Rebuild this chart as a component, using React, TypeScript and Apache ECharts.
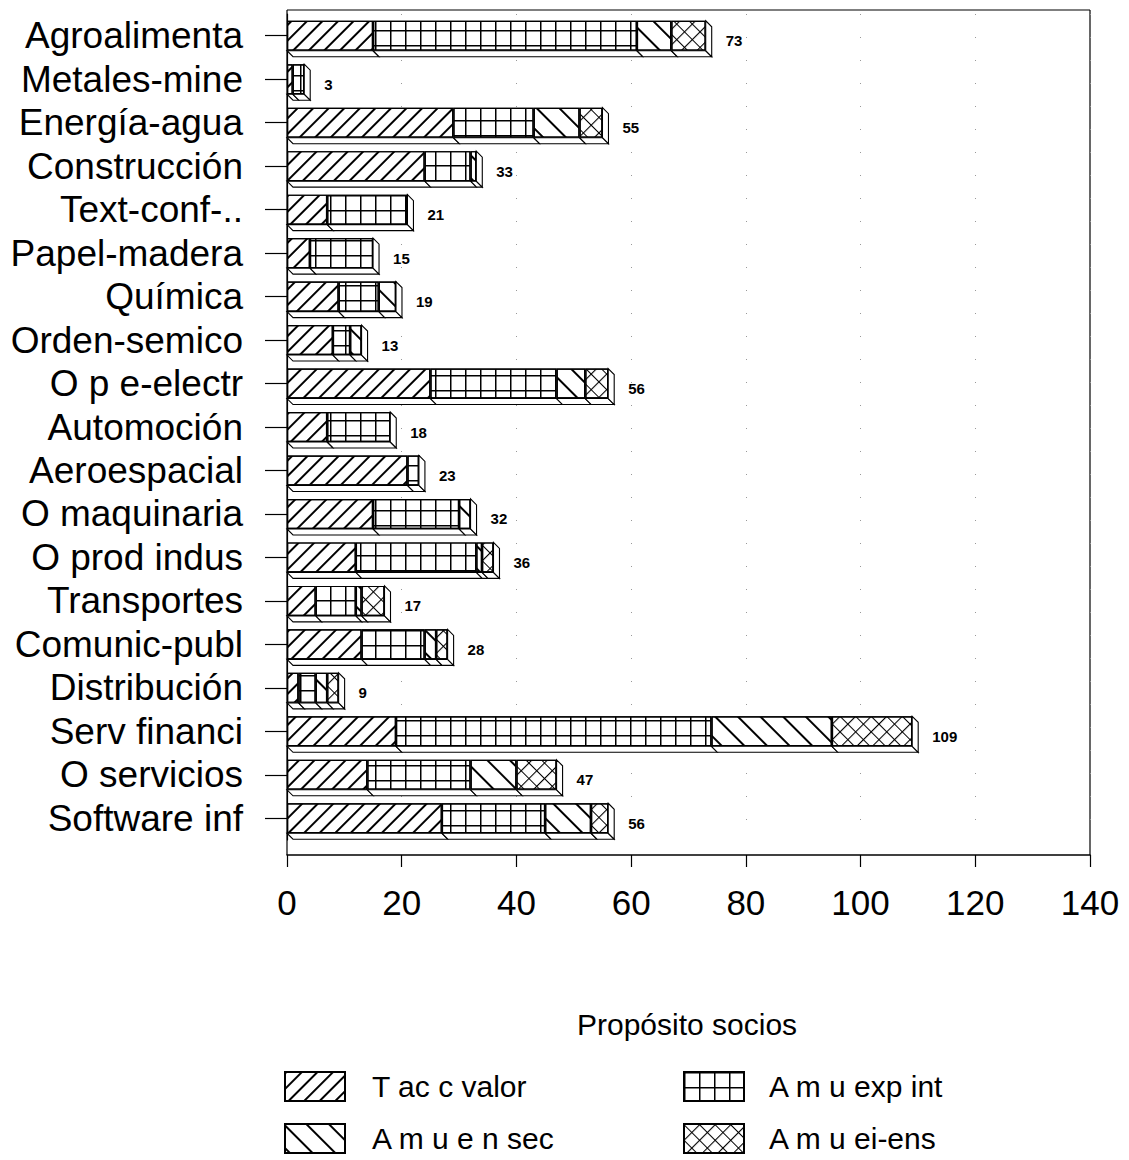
import React, { useEffect, useRef } from "react";
import * as echarts from "echarts";

const categories = [
  "Agroalimenta", "Metales-mine", "Energía-agua", "Construcción", "Text-conf-..",
  "Papel-madera", "Química", "Orden-semico", "O p e-electr", "Automoción",
  "Aeroespacial", "O maquinaria", "O prod indus", "Transportes", "Comunic-publ",
  "Distribución", "Serv financi", "O servicios", "Software inf",
];
const seriesNames = ["T ac c valor", "A m u exp int", "A m u e n sec", "A m u ei-ens"];
const tacValor = [15, 1, 29, 24, 7, 4, 9, 8, 25, 7, 21, 15, 12, 5, 13, 2, 19, 14, 27];
const expInt = [46, 2, 14, 8, 14, 11, 7, 3, 22, 11, 2, 15, 21, 7, 11, 3, 55, 18, 18];
const enSec = [6, 0, 8, 1, 0, 0, 3, 2, 5, 0, 0, 2, 1, 1, 2, 2, 21, 8, 8];
const eiEns = [6, 0, 4, 0, 0, 0, 0, 0, 4, 0, 0, 0, 2, 4, 2, 2, 14, 7, 3];
const totals = [73, 3, 55, 33, 21, 15, 19, 13, 56, 18, 23, 32, 36, 17, 28, 9, 109, 47, 56];
const xTicks = { min: 0, max: 140, interval: 20 };

const FONT = "'Liberation Sans', Arial, Helvetica, sans-serif";
const BAR_W = 30;
const DEPTH = 6;
// 2x2 grid tile outline (30 x 30 box)
const GRID_TILE =
  "path://M0,0H30V1.5H0Z M0,15H30V16.5H0Z M0,0H1.5V30H0Z M15,0H16.5V30H15Z";

const decals: any[] = [
  { symbol: "rect", symbolSize: 1, color: "#000", dashArrayX: [1, 0], dashArrayY: [1.2, 9], rotation: -Math.PI / 4 },
  { symbol: GRID_TILE, symbolSize: 1, symbolKeepAspect: false, color: "#000", dashArrayX: [30, 0], dashArrayY: [30, 0], rotation: 0 },
  { symbol: "rect", symbolSize: 1, color: "#000", dashArrayX: [1, 0], dashArrayY: [1.2, 14], rotation: Math.PI / 4 },
  { symbol: GRID_TILE, symbolSize: 1, symbolKeepAspect: false, color: "#000", dashArrayX: [22, 0], dashArrayY: [22, 0], rotation: Math.PI / 4 },
];

export default function App() {
  const ref = useRef<HTMLDivElement>(null);
  useEffect(() => {
    document.body.style.margin = "0";
    const chart = echarts.init(ref.current!, null, { renderer: "svg" });
    const segs = [tacValor, expInt, enSec, eiEns];
    const depthData = categories.map((_, i) => {
      let acc = 0;
      const ends = segs.map((s) => (acc += s[i]));
      return [i, ...ends, totals[i]];
    });

    const option: any = {
      animation: false,
      backgroundColor: "#fff",
      textStyle: { fontFamily: FONT, color: "#000" },
      title: {
        text: "Propósito socios",
        left: 572,
        top: 1004,
        textStyle: { fontFamily: FONT, fontSize: 30, fontWeight: "normal", color: "#000" },
      },
      legend: seriesNames.map((n, i) => ({
        data: [n],
        left: [279, 678, 279, 678][i],
        top: [1066, 1066, 1118, 1118][i],
        itemWidth: 60,
        itemHeight: 29,
        icon: "rect",
        selectedMode: false,
        textStyle: { fontFamily: FONT, fontSize: 30, color: "#000", padding: [0, 0, 0, [22, 20, 22, 20][i]] },
      })),
      grid: { left: 287, right: 39, top: 14, bottom: 320 },
      xAxis: {
        type: "value",
        ...xTicks,
        offset: 15,
        axisLine: { show: true, lineStyle: { color: "#000", width: 1.5 } },
        axisTick: { show: true, length: 12, lineStyle: { color: "#000", width: 1.2 } },
        axisLabel: { fontFamily: FONT, fontSize: 35, margin: 30, color: "#000" },
        splitLine: { show: true, lineStyle: { color: "#999", type: [1, 22], width: 1 } },
      },
      yAxis: {
        type: "category",
        data: categories,
        inverse: true,
        axisLine: { show: true, lineStyle: { color: "#000", width: 1.2 } },
        axisTick: { show: true, length: 22, alignWithLabel: true, lineStyle: { color: "#000", width: 1.2 } },
        axisLabel: { fontFamily: FONT, fontSize: 37, margin: 44, color: "#000", interval: 0 },
      },
      graphic: [
        { type: "line", shape: { x1: 287, y1: 10, x2: 1090, y2: 10 }, style: { stroke: "#000", lineWidth: 1.2 } },
        { type: "line", shape: { x1: 1090, y1: 10, x2: 1090, y2: 855 }, style: { stroke: "#000", lineWidth: 1.2 } },
        { type: "line", shape: { x1: 287, y1: 10, x2: 287, y2: 855 }, style: { stroke: "#000", lineWidth: 1.2 } },
      ],
      series: [
        ...seriesNames.map((n, k) => ({
          name: n,
          type: "bar",
          stack: "total",
          barWidth: BAR_W,
          data: segs[k],
          itemStyle: { color: "#fff", borderColor: "#000", borderWidth: 1.2, decal: decals[k] },
          emphasis: { disabled: true },
        })),
        {
          type: "custom",
          name: "depth",
          coordinateSystem: "cartesian2d",
          encode: { x: [1, 2, 3, 4], y: 0 },
          data: depthData,
          z: 3,
          renderItem: (params: any, api: any) => {
            const cat = api.value(0);
            const ends = [api.value(1), api.value(2), api.value(3), api.value(4)];
            const total = api.value(5);
            const [x0, yc] = api.coord([0, cat]);
            const yTop = yc - BAR_W / 2;
            const yBot = yc + BAR_W / 2;
            const children: any[] = [];
            let prev = 0;
            let xPrev = x0;
            for (const e of ends) {
              if (e > prev) {
                const xe = api.coord([e, cat])[0];
                children.push({
                  type: "polygon",
                  shape: { points: [[xPrev, yBot], [xe, yBot], [xe + DEPTH, yBot + DEPTH], [xPrev + DEPTH, yBot + DEPTH]] },
                  style: { fill: "#fff", stroke: "#000", lineWidth: 1.1 },
                });
                xPrev = xe;
                prev = e;
              }
            }
            children.push({
              type: "polygon",
              shape: { points: [[xPrev, yTop], [xPrev + DEPTH, yTop + DEPTH], [xPrev + DEPTH, yBot + DEPTH], [xPrev, yBot]] },
              style: { fill: "#fff", stroke: "#000", lineWidth: 1.1 },
            });
            const xt = api.coord([total, cat])[0];
            children.push({
              type: "text",
              x: xt + 20,
              y: yc + 5,
              style: { text: String(total), fill: "#000", font: `bold 15px ${FONT}`, textAlign: "left", textVerticalAlign: "middle" },
            });
            return { type: "group", children };
          },
        },
      ],
    };
    chart.setOption(option);
    return () => chart.dispose();
  }, []);
  return <div ref={ref} style={{ width: 1129, height: 1160 }} />;
}
